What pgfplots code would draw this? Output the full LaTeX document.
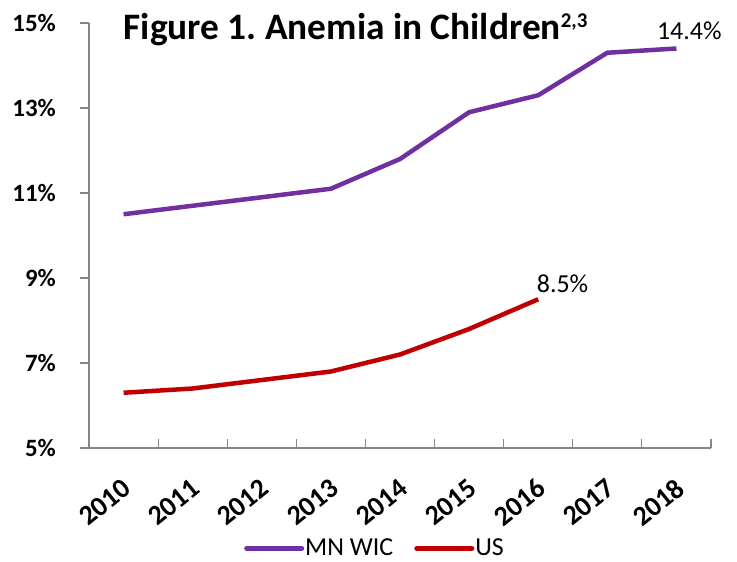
\documentclass[border=0pt]{standalone}
\usepackage{fontspec}
\setmainfont{Carlito}
\usepackage{pgfplots}
\pgfplotsset{compat=1.18}
\definecolor{wic}{RGB}{112,48,160}
\definecolor{us}{RGB}{192,0,0}
\definecolor{axgray}{RGB}{134,134,134}
\frenchspacing
\begin{document}
\begin{tikzpicture}[x=1bp,y=1bp]
\useasboundingbox (-89bp,-114bp) rectangle (648bp,448bp);
\begin{axis}[
  at={(0,0)}, anchor=south west,
  scale only axis, width=622bp, height=425bp,
  xmin=-0.5, xmax=8.5, ymin=5, ymax=15,
  axis lines*=left,
  axis line style={axgray, line width=1.2pt},
  xtick={0,...,8},
  xticklabels={2010,2011,2012,2013,2014,2015,2016,2017,2018},
  major x tick style={draw=none},
  minor xtick={-0.5,0.5,...,8.5},
  minor x tick style={axgray, line width=1.2pt},
  minor tick length=9bp,
  x tick label style={font=\fontsize{28}{30}\selectfont\bfseries, rotate=39, anchor=north east, inner sep=0pt, yshift=-21bp, xshift=-20bp},
  ytick={5,7,9,11,13,15},
  yticklabels={5\%,7\%,9\%,11\%,13\%,15\%},
  y tick style={axgray, line width=1.2pt},
  major tick length=9bp,
  ytick align=outside,
  y tick label style={font=\fontsize{25}{28}\selectfont\bfseries, anchor=east, inner sep=0pt, xshift=-24bp},
  legend style={at={(0.459,-0.236)}, anchor=center, draw=none, legend columns=2,
     font=\fontsize{26}{28}\selectfont, /tikz/every even column/.append style={column sep=20bp},
     nodes={inner sep=1bp}},
  legend image code/.code={\draw[#1, line width=5bp, line cap=round] (0bp,0bp) -- (55bp,0bp);},
  clip=false,
]
\addplot[wic, line width=4.5bp, line join=round] coordinates {
 (0,10.5) (1,10.7) (2,10.9) (3,11.1) (4,11.8) (5,12.9) (6,13.3) (7,14.3) (8,14.4)};
\addlegendentry{MN WIC}
\addplot[us, line width=4.5bp, line join=round] coordinates {
 (0,6.3) (1,6.4) (2,6.6) (3,6.8) (4,7.2) (5,7.8) (6,8.5)};
\addlegendentry{US}
\node[font=\fontsize{26}{28}\selectfont, anchor=base west, inner sep=0pt] at (axis cs:7.717,14.62) {14.4\%};
\node[font=\fontsize{26}{28}\selectfont, anchor=base west, inner sep=0pt] at (axis cs:5.978,8.67) {8.5\%};
\node[font=\fontsize{37.5}{40}\selectfont\bfseries, anchor=base west, inner sep=0pt] at (axis cs:0.0,14.6) {Figure 1. Anemia in Children\raisebox{12bp}{\fontsize{21}{22}\selectfont 2,3}};
\end{axis}
\end{tikzpicture}
\end{document}
